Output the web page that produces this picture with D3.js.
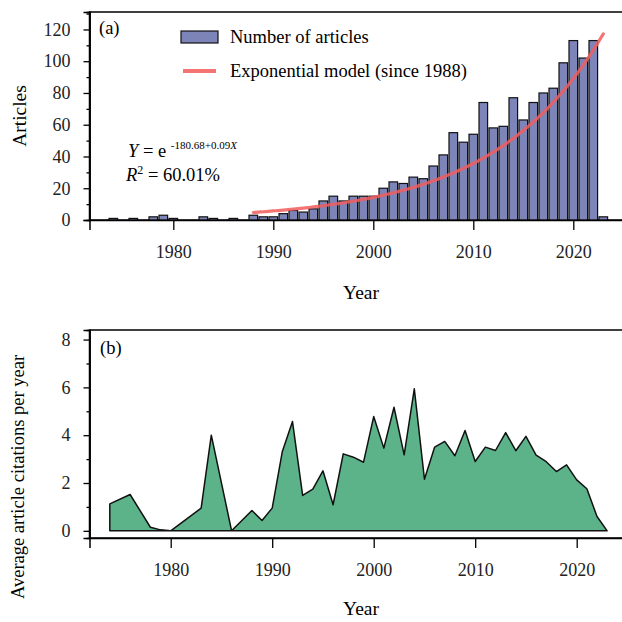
<!DOCTYPE html>
<html>
<head>
<meta charset="utf-8">
<script src="https://cdn.jsdelivr.net/npm/d3@7"></script>
<style>
  body { margin: 0; background: #fff; }
  svg { font-family: "Liberation Serif", "DejaVu Serif", serif; }
</style>
</head>
<body>
<svg id="chart" width="622" height="622"></svg>
<script>
// articles per year (panel a)
const articleYears = [1974, 1976, 1978, 1979, 1980, 1983, 1984, 1986, 1988, 1989, 1990,
  1991, 1992, 1993, 1994, 1995, 1996, 1997, 1998, 1999, 2000, 2001, 2002, 2003, 2004,
  2005, 2006, 2007, 2008, 2009, 2010, 2011, 2012, 2013, 2014, 2015, 2016, 2017, 2018,
  2019, 2020, 2021, 2022, 2023];
const articleCounts = [1, 1, 2, 3, 1, 2, 1, 1, 3, 2, 2,
  4, 6, 5, 7, 12, 15, 12, 15, 15, 15, 20, 24, 23, 27,
  26, 34, 41, 55, 49, 54, 74, 58, 59, 77, 63, 74, 80, 83,
  99, 113, 102, 113, 2];

// average citations per year (panel b), same years
const citations = [1.13, 1.52, 0.15, 0.04, 0, 0.95, 4.0, 0, 0.85, 0.43, 0.95,
  3.32, 4.57, 1.48, 1.74, 2.51, 1.09, 3.22, 3.08, 2.87, 4.78, 3.46, 5.17, 3.18, 5.94,
  2.16, 3.50, 3.74, 3.14, 4.20, 2.90, 3.50, 3.36, 4.11, 3.35, 3.95, 3.17, 2.89, 2.48,
  2.76, 2.13, 1.76, 0.60, 0];

// exponential model Y = e^(a + bX), fitted from 1988
const modelA = -180.68;
const modelB = 0.091668;
const modelStart = 1988;
const modelEnd = 2023;

const xTicks = [1980, 1990, 2000, 2010, 2020];
const yTicksA = [0, 20, 40, 60, 80, 100, 120];
const yTicksB = [0, 2, 4, 6, 8];

const barColor = "#7d85b8";
const areaColor = "#5cb38a";
const lineColor = "#f25c5c";
const serif = "Liberation Serif, DejaVu Serif, serif";

const svg = d3.select("#chart");
const left = 89.5;

// ---------- panel (a) ----------
const xA = d3.scaleLinear().domain([1971.62, 2026]).range([left, left + 54.38 * 10]);
const yA = d3.scaleLinear().domain([0, 131]).range([220, 12]);
const gA = svg.append("g");

// frame
gA.append("path")
  .attr("d", `M${xA.range()[1]},${yA(131)}H${left}V${yA(0)}H${xA.range()[1]}`)
  .attr("fill", "none").attr("stroke", "#000").attr("stroke-width", 1.5);

const barW = 8.6;
gA.selectAll("rect.bar")
  .data(articleYears.map((y, i) => ({ year: y, n: articleCounts[i] })))
  .join("rect")
  .attr("class", "bar")
  .attr("x", d => xA(d.year) - barW / 2)
  .attr("width", barW)
  .attr("y", d => yA(d.n))
  .attr("height", d => yA(0) - yA(d.n))
  .attr("fill", barColor)
  .attr("stroke", "#111")
  .attr("stroke-width", 1.2);

// model curve
const modelYears = d3.range(modelStart, modelEnd + 0.001, 0.25);
gA.append("path")
  .datum(modelYears)
  .attr("d", d3.line().x(d => xA(d)).y(d => yA(Math.exp(modelA + modelB * d))))
  .attr("fill", "none")
  .attr("stroke", lineColor)
  .attr("stroke-opacity", 0.85)
  .attr("stroke-width", 3.2)
  .attr("stroke-linecap", "round");

// axes
gA.append("g").attr("transform", `translate(0,${yA(0)})`)
  .call(d3.axisBottom(xA).tickValues(xTicks).tickFormat(d3.format("d")).tickSize(10).tickPadding(15));
gA.append("g").attr("transform", `translate(${left},0)`)
  .call(d3.axisLeft(yA).tickValues(yTicksA).tickSize(6).tickPadding(13));
gA.append("g").attr("transform", `translate(${left},0)`)
  .call(d3.axisLeft(yA).tickValues(d3.range(10, 131, 20)).tickSize(3).tickFormat(""));

// labels
gA.append("text").attr("x", 99).attr("y", 34).attr("font-size", 18.5).text("(a)");
gA.append("text").attr("x", 361).attr("y", 299).attr("text-anchor", "middle")
  .attr("font-size", 19.5).text("Year");
gA.append("text").attr("transform", `translate(26,${(yA(0) + yA(131)) / 2}) rotate(-90)`)
  .attr("text-anchor", "middle").attr("font-size", 19.5).text("Articles");

// legend
gA.append("rect").attr("x", 181).attr("y", 31).attr("width", 37).attr("height", 12)
  .attr("fill", barColor).attr("stroke", "#111").attr("stroke-width", 1.2);
gA.append("text").attr("x", 230).attr("y", 43).attr("font-size", 18.5).text("Number of articles");
gA.append("line").attr("x1", 183).attr("x2", 216).attr("y1", 71).attr("y2", 71)
  .attr("stroke", lineColor).attr("stroke-opacity", 0.85).attr("stroke-width", 4);
gA.append("text").attr("x", 230).attr("y", 77).attr("font-size", 18.5).text("Exponential model (since 1988)");

// equation
const eq = gA.append("text").attr("x", 128).attr("y", 157).attr("font-size", 18.5);
eq.append("tspan").attr("font-style", "italic").text("Y");
eq.append("tspan").text(" = e ");
const sup = eq.append("tspan").attr("dy", -8).attr("font-size", 11);
sup.append("tspan").text("-180.68+0.09");
sup.append("tspan").attr("font-style", "italic").text("X");
const r2 = gA.append("text").attr("x", 126).attr("y", 181).attr("font-size", 18.5);
r2.append("tspan").attr("font-style", "italic").text("R");
r2.append("tspan").attr("dy", -7).attr("font-size", 12).text("2");
r2.append("tspan").attr("dy", 7).text(" = 60.01%");

// ---------- panel (b) ----------
const xB = d3.scaleLinear().domain([1972, 2026]).range([left, left + 54 * 10.15]);
const yB = d3.scaleLinear().domain([-0.3, 8.4]).range([538, 330]);
const gB = svg.append("g");

gB.append("path")
  .attr("d", `M${xB.range()[1]},${yB(8.4)}H${left}V${yB(-0.3)}H${xB.range()[1]}`)
  .attr("fill", "none").attr("stroke", "#000").attr("stroke-width", 1.5);

const citeData = articleYears.map((y, i) => ({ year: y, v: citations[i] }));
gB.append("path")
  .datum(citeData)
  .attr("d", d3.area().x(d => xB(d.year)).y0(yB(0)).y1(d => yB(d.v)))
  .attr("fill", areaColor)
  .attr("stroke", "#111")
  .attr("stroke-width", 1.5)
  .attr("stroke-linejoin", "round");

gB.append("g").attr("transform", `translate(0,${yB(-0.3)})`)
  .call(d3.axisBottom(xB).tickValues(xTicks).tickFormat(d3.format("d")).tickSize(10).tickPadding(15));
gB.append("g").attr("transform", `translate(${left},0)`)
  .call(d3.axisLeft(yB).tickValues(yTicksB).tickSize(6).tickPadding(13));
gB.append("g").attr("transform", `translate(${left},0)`)
  .call(d3.axisLeft(yB).tickValues([1, 3, 5, 7]).tickSize(3).tickFormat(""));

gB.append("text").attr("x", 100).attr("y", 354).attr("font-size", 18.5).text("(b)");
gB.append("text").attr("x", 361).attr("y", 615).attr("text-anchor", "middle")
  .attr("font-size", 19.5).text("Year");
gB.append("text").attr("transform", `translate(24,477) rotate(-90)`)
  .attr("text-anchor", "middle").attr("font-size", 18.5).text("Average article citations per year");

// axis styling
svg.selectAll("g").filter(function () { return this.hasAttribute("font-family"); })
  .attr("font-family", serif);
svg.selectAll(".tick text").attr("font-size", 18).attr("fill", "#222");
svg.selectAll(".domain").attr("stroke-width", 1.5);
svg.selectAll(".tick line").attr("stroke-width", 1.3);
</script>
</body>
</html>
